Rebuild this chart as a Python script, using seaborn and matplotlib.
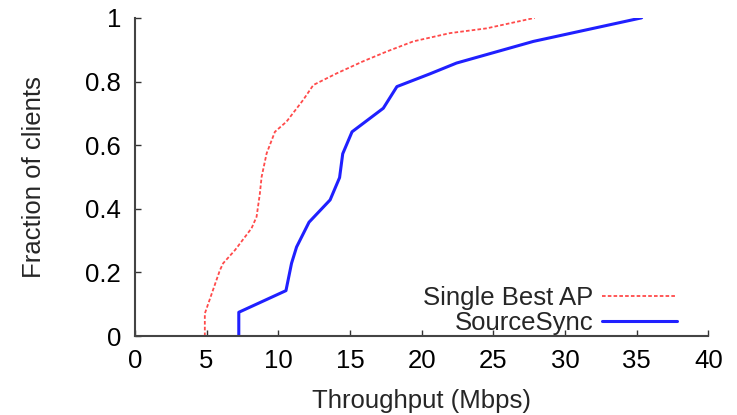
import pandas as pd
import matplotlib
matplotlib.use("Agg")
import matplotlib.pyplot as plt
import seaborn as sns

# CDF points (throughput in Mbps, fraction of clients)
single_x = [4.88, 4.88, 5.93, 6.16, 6.98, 8.14, 8.49, 8.72, 8.84, 9.19, 9.77,
            10.58, 11.74, 12.45, 14.1, 15.9, 17.56, 19.42, 21.98, 24.54, 27.9]
single_y = [0.0, 0.071, 0.207, 0.229, 0.27, 0.339, 0.375, 0.448, 0.50, 0.574, 0.642,
            0.674, 0.742, 0.789, 0.826, 0.863, 0.894, 0.926, 0.952, 0.967, 1.0]

sync_x = [7.25, 7.25, 10.54, 10.93, 11.28, 12.15, 13.62, 14.28, 14.5, 15.15,
          17.33, 18.28, 20.58, 22.44, 27.8, 35.35]
sync_y = [0.0, 0.075, 0.143, 0.229, 0.28, 0.358, 0.428, 0.498, 0.573, 0.642,
          0.716, 0.784, 0.824, 0.858, 0.926, 1.0]

series_names = ["Single Best AP", "SourceSync"]
x_ticks = [0, 5, 10, 15, 20, 25, 30, 35, 40]
y_ticks = [0, 0.2, 0.4, 0.6, 0.8, 1]
y_tick_labels = ["0", "0.2", "0.4", "0.6", "0.8", "1"]

df = pd.concat([
    pd.DataFrame({"x": single_x, "y": single_y, "series": series_names[0]}),
    pd.DataFrame({"x": sync_x, "y": sync_y, "series": series_names[1]}),
], ignore_index=True)

sns.set_style("ticks")
plt.rcParams["font.family"] = ["Liberation Sans", "DejaVu Sans"]
fs = 18.5

fig = plt.figure(figsize=(7.37, 4.15), dpi=100)
ax = fig.add_axes([0.183, 0.19, 0.778, 0.767])

colors = {"Single Best AP": "#ff4a4a", "SourceSync": "#2020ff"}
ax = sns.lineplot(data=df, x="x", y="y", hue="series", palette=colors,
                  estimator=None, sort=False, ax=ax, legend=False)
lines = ax.get_lines()
lines[0].set_linestyle((0, (2, 1.2)))
lines[0].set_linewidth(1.3)
lines[1].set_linewidth(2.2)

ax.set_xlim(0, 40)
ax.set_ylim(0, 1)
ax.set_xticks(x_ticks)
ax.set_xticklabels([str(t) for t in x_ticks])
ax.set_yticks(y_ticks)
ax.set_yticklabels(y_tick_labels)
ax.tick_params(direction="in", length=4, width=1, labelsize=fs, colors="#333333",
               labelcolor="black")
ax.tick_params(axis="x", pad=9)
ax.tick_params(axis="y", pad=10)

sns.despine(ax=ax)
for s in ["left", "bottom"]:
    ax.spines[s].set_linewidth(1.5)
    ax.spines[s].set_color("#444444")

ax.set_xlabel("Throughput (Mbps)", fontsize=fs)
ax.set_ylabel("Fraction of clients", fontsize=fs)
ax.xaxis.set_label_coords(0.5, -0.165)
ax.yaxis.set_label_coords(-0.155, 0.5)

ax.legend(lines, series_names, loc="lower right", bbox_to_anchor=(0.972, -0.046),
          frameon=False, markerfirst=False, fontsize=fs, handlelength=2.9,
          handletextpad=0.35, labelspacing=0.05, borderaxespad=0.2)

fig.savefig("out.png", dpi=100)
